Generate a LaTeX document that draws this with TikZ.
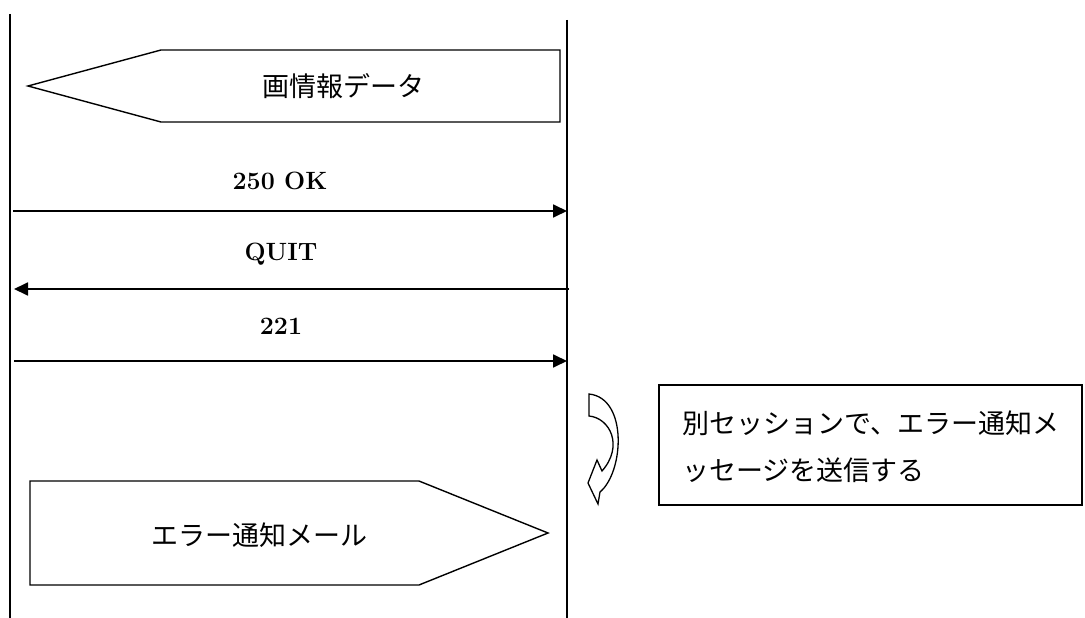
\documentclass[tikz,border=0pt]{standalone}
\usepackage{fontspec}
\newfontfamily\jpfont{Noto Sans CJK JP}
\usetikzlibrary{arrows.meta}
\begin{document}
\begin{tikzpicture}[x=1pt,y=-1pt,
  lifeline/.style={line width=1.5pt},
  msg/.style={line width=1.8pt,-{Triangle[length=14pt,width=13pt]}},
  shapeline/.style={line width=1.4pt,fill=white},
  msglabel/.style={font=\fontsize{25}{30}\selectfont\bfseries,inner sep=0pt},
  jplabel/.style={font=\jpfont\fontsize{27}{47}\selectfont,inner sep=0pt}]
\useasboundingbox (0,0) rectangle (1085,618);
% lifelines
\coordinate (L0) at (10,14);
\coordinate (L1) at (10,618);
\coordinate (R0) at (567,20);
\coordinate (R1) at (567,618);
\draw[lifeline] (L0) -- (L1);
\draw[lifeline] (R0) -- (R1);
% top pentagon (image data)
\draw[shapeline] (28,86) -- (161,50) -- (560,50) -- (560,122) -- (161,122) -- cycle;
\node[jplabel] (img) at (343,86) {画情報データ};
% messages
\coordinate (a1s) at (13,211);
\coordinate (a1e) at (567,211);
\coordinate (a2s) at (569,289);
\coordinate (a2e) at (14,289);
\coordinate (a3s) at (14,361);
\coordinate (a3e) at (567,361);
\draw[msg] (a1s) -- (a1e);
\draw[msg] (a2s) -- (a2e);
\draw[msg] (a3s) -- (a3e);
\node[msglabel] (l1) at (280,181) {250 OK};
\node[msglabel] (l2) at (281,254) {QUIT};
\node[msglabel] (l3) at (281,326) {221};
% curved arrow
\draw[line width=1.3pt,fill=white] (589,394) -- (589,416)
  .. controls (610,418) and (624,446) .. (602,471)
  -- (597,460) -- (588,483) -- (598,504) -- (600,492)
  .. controls (624,472) and (628,398) .. (589,394) -- cycle;
% note box
\node[draw,line width=1.3pt,minimum width=423pt,minimum height=120pt,inner sep=0pt] (note) at (870.5,445) {};
\node[jplabel,align=left,anchor=west] (notetext) at (682,446.5) {別セッションで、エラー通知メ\\ッセージを送信する};
% bottom pentagon (error mail)
\draw[shapeline] (30,481) -- (419,481) -- (548,533) -- (419,585) -- (30,585) -- cycle;
\node[jplabel] (mail) at (259,535) {エラー通知メール};
\end{tikzpicture}
\end{document}
